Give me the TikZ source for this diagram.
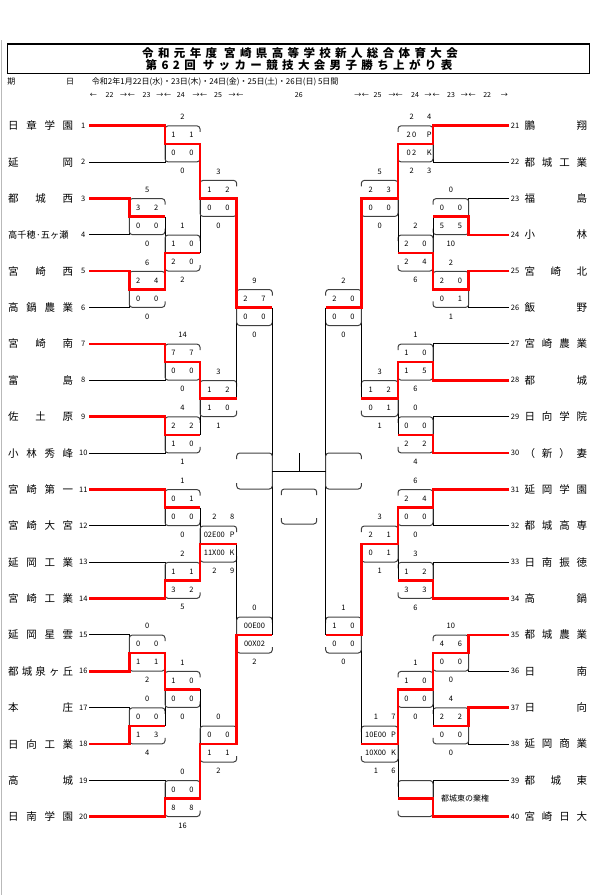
\documentclass[tikz,border=0pt]{standalone}
\usepackage{fontspec}
\setmainfont{Noto Sans CJK JP}
\usetikzlibrary{calc}
\begin{document}
\begin{tikzpicture}[x=1pt,y=-1pt,
  every node/.style={inner sep=0pt},
  ln/.style={black,line width=0.9pt},
  win/.style={red,line width=2.5pt},
  boxline/.style={black!75,line width=1pt,rounded corners=3pt},
  score/.style={font=\fontsize{7.5}{8}\selectfont},
  num/.style={font=\fontsize{7.5}{8}\selectfont},
  team/.style={font=\fontsize{10.5}{12}\selectfont,anchor=west},
  date/.style={font=\fontsize{8}{9}\selectfont},
  title/.style={font=\fontsize{11.5}{12}\selectfont\bfseries\addfontfeature{LetterSpace=38}}]
\useasboundingbox (0,0) rectangle (596,895);
% page edge and title
\draw[gray!55,line width=1.2pt] (1.5,40) -- (1.5,895);
\draw[line width=1.5pt] (7.6,44) rectangle (589.3,73.3);
\node[title] (title1) at (300,52.7) {令和元年度 宮崎県高等学校新人総合体育大会};
\node[title] (title2) at (299,65.3) {第62回 サッカー競技大会男子勝ち上がり表};
% dates
\node[date] (ki) at (11.5,82) {期};
\node[date] (bi) at (70,82) {日};
\node[date,anchor=west] (dates) at (91.7,82) {令和2年1月22日(水)・23日(木)・24日(金)・25日(土)・26日(日) 5日間};
\foreach \x/\t [count=\k] in {93.3/←,109.6/22,123.7/→,131.3/←,146.6/23,159.9/→,167.5/←,180.8/24,196/→,203.7/←,218.1/25,232.2/→,239.8/←,
  298.8/26,
  357.8/→,365.4/←,377.6/25,392/→,399/←,415/24,428/→,436/←,451/23,464.4/→,472/←,487.2/22,504.4/→}
  \node[date,font=\fontsize{7}{8}\selectfont] (arrow\k) at (\x,95) {\t};
% columns
\coordinate (xLP) at (129.3,0);
\coordinate (xL1) at (165,0);
\coordinate (xL2) at (200,0);
\coordinate (xL3) at (236.7,0);
\coordinate (xL4) at (272.3,0);
\coordinate (xRP) at (468.7,0);
\coordinate (xR1) at (433,0);
\coordinate (xR2) at (398,0);
\coordinate (xR3) at (361.3,0);
\coordinate (xR4) at (325.7,0);
% teams
\foreach \i in {1,...,20}{
  \pgfmathtruncatemacro\j{\i+20}
  \coordinate (T\i) at (89,{125.7+(\i-1)*36.37});
  \coordinate (T\j) at (509,{125.7+(\i-1)*36.37});
}
\foreach \i/\nm in {1/日 章 学 園,2/延 岡,3/都 城 西,4/{\fontsize{9.2}{10}\selectfont 高千穂·五ヶ瀬},5/宮 崎 西,
  6/高 鍋 農 業,7/宮 崎 南,8/富 島,9/佐 土 原,10/小 林 秀 峰,11/宮 崎 第 一,12/宮 崎 大 宮,13/延 岡 工 業,
  14/宮 崎 工 業,15/延 岡 星 雲,16/都 城 泉 ヶ 丘,17/本 庄,18/日 向 工 業,19/高 城,20/日 南 学 園}{
  \node[team] (name\i) at ([xshift=-81pt]T\i) {\makebox[65pt][s]{\nm}};
  \node[num] (num\i) at ([xshift=-5.7pt]T\i) {\i};
}
\foreach \i/\nm in {21/鵬 翔,22/都 城 工 業,23/福 島,24/小 林,25/宮 崎 北,26/飯 野,27/宮 崎 農 業,28/都 城,
  29/日 向 学 院,30/（ 新 ） 妻,31/延 岡 学 園,32/都 城 高 専,33/日 南 振 徳,34/高 鍋,35/都 城 農 業,
  36/日 南,37/日 向,38/延 岡 商 業,39/都 城 東,40/宮 崎 日 大}{
  \node[team] (name\i) at ([xshift=15.3pt]T\i) {\makebox[62.7pt][s]{\nm}};
  \node[num] (num\i) at ([xshift=6pt]T\i) {\i};
}
% first matches (team against team)
\foreach \id/\xa/\xb/\ta/\tb in {LP34/xLP/xL1/3/4,LP56/xLP/xL1/5/6,LP1516/xLP/xL1/15/16,LP1718/xLP/xL1/17/18,
  L1a/xL1/xL2/1/2,L1c/xL1/xL2/7/8,L1d/xL1/xL2/9/10,L1e/xL1/xL2/11/12,L1f/xL1/xL2/13/14,L1h/xL1/xL2/19/20,
  RP2324/xRP/xR1/23/24,RP2526/xRP/xR1/25/26,RP3536/xRP/xR1/35/36,RP3738/xRP/xR1/37/38,
  R1a/xR1/xR2/21/22,R1c/xR1/xR2/27/28,R1d/xR1/xR2/29/30,R1e/xR1/xR2/31/32,R1f/xR1/xR2/33/34,R1h/xR1/xR2/39/40}{
  \coordinate (\id-A) at (T\ta -| \xa);
  \coordinate (\id-B) at (T\tb -| \xa);
  \coordinate (\id-m) at ($(\id-A)!.5!(\id-B)$);
  \coordinate (\id-o) at (\id-m -| \xb);
  \coordinate (\id-c) at ($(\id-m)!.5!(\id-o)$);
  \draw[ln] (T\ta) -- (\id-A) -- (\id-B) -- (T\tb);
  \draw[ln] (\id-m) -- (\id-o);
  \draw[boxline] ($(\id-o)+(0,-12)$) |- ($(\id-m)+(0,-18)$) |- ($(\id-o)+(0,18)$) -- ++(0,-6);
}
% later matches
\foreach \id/\xb/\pa/\pb/\ym in {L1b/xL2/LP34/LP56/253.0,L1g/xL2/LP1516/LP1718/689.4,
  R1b/xR2/RP2324/RP2526/253.0,R1g/xR2/RP3536/RP3738/689.4,
  L2a/xL3/L1a/L1b/198.4,L2b/xL3/L1c/L1d/398.5,L2c/xL3/L1e/L1f/544.0,L2d/xL3/L1g/L1h/744.0,
  R2a/xR3/R1a/R1b/198.4,R2b/xR3/R1c/R1d/398.5,R2c/xR3/R1e/R1f/544.0,R2d/xR3/R1g/R1h/744.0,
  L3a/xL4/L2a/L2b/307.5,L3b/xL4/L2c/L2d/635,R3a/xR4/R2a/R2b/307.5,R3b/xR4/R2c/R2d/635}{
  \coordinate (\id-m) at (\pa-o |- 0,\ym);
  \coordinate (\id-o) at (\id-m -| \xb);
  \coordinate (\id-c) at ($(\id-m)!.5!(\id-o)$);
  \draw[ln] (\pa-o) -- (\pb-o);
  \draw[ln] (\id-m) -- (\id-o);
  \draw[boxline] ($(\id-o)+(0,-12)$) |- ($(\id-m)+(0,-18)$) |- ($(\id-o)+(0,18)$) -- ++(0,-6);
}
% semifinals and final
\draw[ln] (L3a-o) -- (L3b-o);
\draw[ln] (R3a-o) -- (R3b-o);
\coordinate (SL) at (L3a-o |- 0,471);
\coordinate (SR) at (R3a-o |- 0,471);
\draw[boxline] ($(SL -| xL3)+(0,-12)$) |- ($(SL)+(0,-18)$) |- ($(SL -| xL3)+(0,18)$) -- ++(0,-6);
\draw[boxline] ($(SR -| xR3)+(0,-12)$) |- ($(SR)+(0,-18)$) |- ($(SR -| xR3)+(0,18)$) -- ++(0,-6);
\draw[ln] (SL) -- (SR);
\coordinate (F) at ($(SL)!.5!(SR)$);
\draw[ln] (F) -- ++(0,-18);
\coordinate (FB) at ($(F)+(0,35.5)$);
\draw[boxline] ($(FB)+(-17.7,-11.5)$) |- ($(FB)+(17.7,-17.5)$) -- ++(0,6);
\draw[boxline] ($(FB)+(-17.7,11.5)$) |- ($(FB)+(17.7,17.5)$) -- ++(0,-6);
% scores
\foreach \id/\ua/\ub/\da/\db/\ut/\dt in {LP34/3/2/0/0/5/0,LP56/2/4/0/0/6/0,LP1516/0/0/1/1/0/2,LP1718/0/0/1/3/0/4,
  L1a/1/1/0/0/2/0,L1b/1/0/2/0/1/2,L1c/7/7/0/0/14/0,L1d/2/2/1/0/4/1,L1e/0/1/0/0/1/0,L1f/1/1/3/2/2/5,
  L1g/1/0/0/0/1/0,L1h/0/0/8/8/0/16,L2a/1/2/0/0/3/0,L2b/1/2/1/0/3/1,L2d/0/0/1/1/0/2,L3a/2/7/0/0/9/0,
  RP2324/0/0/5/5/0/10,RP2526/2/0/0/1/2/1,RP3536/4/6/0/0/10/0,RP3738/2/2/0/0/4/0,
  R1b/2/0/2/4/2/6,R1c/1/0/1/5/1/6,R1d/0/0/2/2/0/4,R1e/2/4/0/0/6/0,R1f/1/2/3/3/3/6,R1g/1/0/0/0/1/0,
  R2a/2/3/0/0/5/0,R2b/1/2/0/1/3/1,R2c/2/1/0/1/3/1,R3a/2/0/0/0/2/0,R3b/1/0/0/0/1/0}{
  \node[score] (\id-a) at ($(\id-c)+(-9,-9)$) {\ua};
  \node[score] (\id-b) at ($(\id-c)+(9,-9)$) {\ub};
  \node[score] (\id-cc) at ($(\id-c)+(-9,9)$) {\da};
  \node[score] (\id-d) at ($(\id-c)+(9,9)$) {\db};
  \node[score] (\id-T) at ($(\id-c)+(0,-27)$) {\ut};
  \node[score] (\id-B) at ($(\id-c)+(0,27)$) {\dt};
}
% penalty kick matches
\foreach \id/\ua/\da/\ut/\up/\dt/\dn in {L2c/02E00/11X00/2/8/2/9,R1a/2\,0/0\,2/2/4/2/3,R2d/10E00/10X00/1/7/1/6}{
  \node[score] (\id-a) at ($(\id-c)+(-4,-9)$) {\ua};
  \node[score] (\id-p) at ($(\id-c)+(13.8,-9)$) {P};
  \node[score] (\id-cc) at ($(\id-c)+(-4,9)$) {\da};
  \node[score] (\id-k) at ($(\id-c)+(13.8,9)$) {K};
  \node[score] (\id-T) at ($(\id-c)+(-3.8,-27)$) {\ut};
  \node[score] (\id-Tp) at ($(\id-c)+(13.8,-27)$) {\up};
  \node[score] (\id-B) at ($(\id-c)+(-3.8,27)$) {\dt};
  \node[score] (\id-Bp) at ($(\id-c)+(13.8,27)$) {\dn};
}
% extra time
\node[score] (L3b-a) at ($(L3b-c)+(0,-9)$) {00E00};
\node[score] (L3b-cc) at ($(L3b-c)+(0,9)$) {00X02};
\node[score] (L3b-T) at ($(L3b-c)+(0,-27.5)$) {0};
\node[score] (L3b-B) at ($(L3b-c)+(0,27)$) {2};
\node[font=\fontsize{8}{9}\selectfont] (forfeit) at ($(R1h-m)+(32.2,0)$) {都城東の棄権};
% winners
\draw[win] (T1) -| (L1a-m) -- (L1a-o) -- (L2a-m) -- (L2a-o) -- (L3a-m) -- (L3a-o);
\draw[win] (T3) -| (LP34-m) -- (LP34-o);
\draw[win] (T5) -| (LP56-m) -- (LP56-o) -- (L1b-m) -- (L1b-o);
\draw[win] (T7) -| (L1c-m) -- (L1c-o) -- (L2b-m) -- (L2b-o);
\draw[win] (T9) -| (L1d-m) -- (L1d-o);
\draw[win] (T11) -| (L1e-m) -- (L1e-o);
\draw[win] (T14) -| (L1f-m) -- (L1f-o) -- (L2c-m) -- (L2c-o);
\draw[win] (T16) -| (LP1516-m) -- (LP1516-o) -- (L1g-m) -- (L1g-o);
\draw[win] (T18) -| (LP1718-m) -- (LP1718-o);
\draw[win] (T20) -| (L1h-m) -- (L1h-o) -- (L2d-m) -- (L2d-o) -- (L3b-m) -- (L3b-o);
\draw[win] (T21) -| (R1a-m) -- (R1a-o) -- (R2a-m) -- (R2a-o) -- (R3a-m) -- (R3a-o);
\draw[win] (T24) -| (RP2324-m) -- (RP2324-o);
\draw[win] (T25) -| (RP2526-m) -- (RP2526-o) -- (R1b-m) -- (R1b-o);
\draw[win] (T28) -| (R1c-m) -- (R1c-o) -- (R2b-m) -- (R2b-o);
\draw[win] (T30) -| (R1d-m) -- (R1d-o);
\draw[win] (T31) -| (R1e-m) -- (R1e-o) -- (R2c-m) -- (R2c-o) -- (R3b-m) -- (R3b-o);
\draw[win] (T34) -| (R1f-m) -- (R1f-o);
\draw[win] (T35) -| (RP3536-m) -- (RP3536-o) -- (R1g-m) -- (R1g-o) -- (R2d-m) -- (R2d-o);
\draw[win] (T37) -| (RP3738-m) -- (RP3738-o);
\draw[win] (T40) -| (R1h-m) -- (R1h-o);
\end{tikzpicture}
\end{document}
